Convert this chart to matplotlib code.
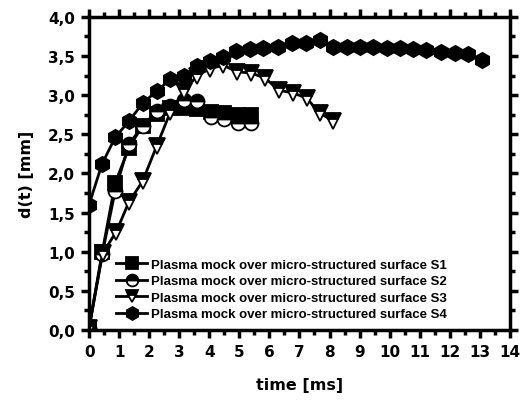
import matplotlib
matplotlib.use("Agg")
import matplotlib.pyplot as plt
from matplotlib.ticker import MultipleLocator, FuncFormatter

plt.rcParams['font.family'] = ['DejaVu Sans']
plt.rcParams['font.weight'] = 'bold'

labels = ["Plasma mock over micro-structured surface S1",
          "Plasma mock over micro-structured surface S2",
          "Plasma mock over micro-structured surface S3",
          "Plasma mock over micro-structured surface S4"]

t_s1 = [0.0, 0.44, 0.87, 1.33, 1.78, 2.25, 2.7, 3.15, 3.6, 4.05, 4.5, 4.95, 5.4]
d_s1 = [0.03, 1.0, 1.88, 2.33, 2.61, 2.76, 2.84, 2.84, 2.82, 2.79, 2.77, 2.75, 2.75]

t_s2 = [0.0, 0.44, 0.87, 1.33, 1.78, 2.25, 2.7, 3.15, 3.6, 4.05, 4.5, 4.95, 5.4]
d_s2 = [0.02, 0.97, 1.78, 2.38, 2.6, 2.8, 2.86, 2.94, 2.92, 2.72, 2.69, 2.65, 2.65]

t_s3 = [0.0, 0.45, 0.9, 1.32, 1.78, 2.25, 2.7, 3.15, 3.6, 4.03, 4.47, 4.92, 5.4,
        5.85, 6.32, 6.78, 7.24, 7.68, 8.12]
d_s3 = [0.03, 0.98, 1.25, 1.63, 1.9, 2.35, 2.78, 3.05, 3.25, 3.34, 3.38, 3.3, 3.28,
        3.22, 3.06, 3.03, 2.96, 2.77, 2.67]

t_s4 = [0.0, 0.43, 0.87, 1.33, 1.79, 2.25, 2.7, 3.15, 3.59, 4.02, 4.46, 4.9, 5.35,
        5.8, 6.28, 6.76, 7.22, 7.67, 8.11, 8.57, 9.02, 9.46, 9.9, 10.34, 10.78,
        11.22, 11.72, 12.17, 12.6, 13.07]
d_s4 = [1.6, 2.12, 2.46, 2.67, 2.9, 3.05, 3.2, 3.25, 3.37, 3.43, 3.49, 3.57, 3.59,
        3.6, 3.62, 3.67, 3.67, 3.71, 3.61, 3.61, 3.61, 3.61, 3.6, 3.6, 3.59,
        3.58, 3.55, 3.54, 3.52, 3.45]

fig = plt.figure(figsize=(5.24, 4.06), dpi=100)
ax = fig.add_axes([0.170, 0.185, 0.803, 0.771])

common = dict(color='black', lw=2, markeredgecolor='black', markeredgewidth=1.3)
ax.plot(t_s1, d_s1, marker='s', ms=9.5, markerfacecolor='black', label=labels[0], **common)
ax.plot(t_s2, d_s2, marker='o', ms=10, fillstyle='top', markerfacecolor='black',
        markerfacecoloralt='white', label=labels[1], **common)
ax.plot(t_s3, d_s3, marker='v', ms=11, fillstyle='top', markerfacecolor='black',
        markerfacecoloralt='white', label=labels[2], **common)
ax.plot(t_s4, d_s4, marker='h', ms=11, markerfacecolor='black', label=labels[3], **common)

ax.set_xlim(0, 14)
ax.set_ylim(0, 4.0)
ax.xaxis.set_major_locator(MultipleLocator(1))
ax.xaxis.set_minor_locator(MultipleLocator(0.5))
ax.yaxis.set_major_locator(MultipleLocator(0.5))
ax.yaxis.set_minor_locator(MultipleLocator(0.25))
ax.yaxis.set_major_formatter(FuncFormatter(lambda v, p: f"{v:.1f}".replace('.', ',')))

for s in ax.spines.values():
    s.set_linewidth(2.5)
ax.tick_params(which='both', direction='out', top=True, right=True, width=2.5,
               labelsize=11)
ax.tick_params(which='major', length=6, pad=4)
ax.tick_params(which='minor', length=3.5)
for lab in ax.get_xticklabels() + ax.get_yticklabels():
    lab.set_fontweight('bold')

ax.set_xlabel("time [ms]", fontsize=11.5, fontweight='bold', labelpad=13)
ax.set_ylabel("d(t) [mm]", fontsize=11.5, fontweight='bold', labelpad=10)

leg = ax.legend(loc='lower left', bbox_to_anchor=(0.065, 0.03), frameon=False,
                numpoints=1, markerscale=0.85,
                prop={'family': 'Liberation Sans', 'size': 9.5, 'weight': 'bold'},
                handlelength=2.35, handletextpad=0.3, labelspacing=0.33,
                borderaxespad=0, borderpad=0)

fig.savefig("out.png", dpi=100)
